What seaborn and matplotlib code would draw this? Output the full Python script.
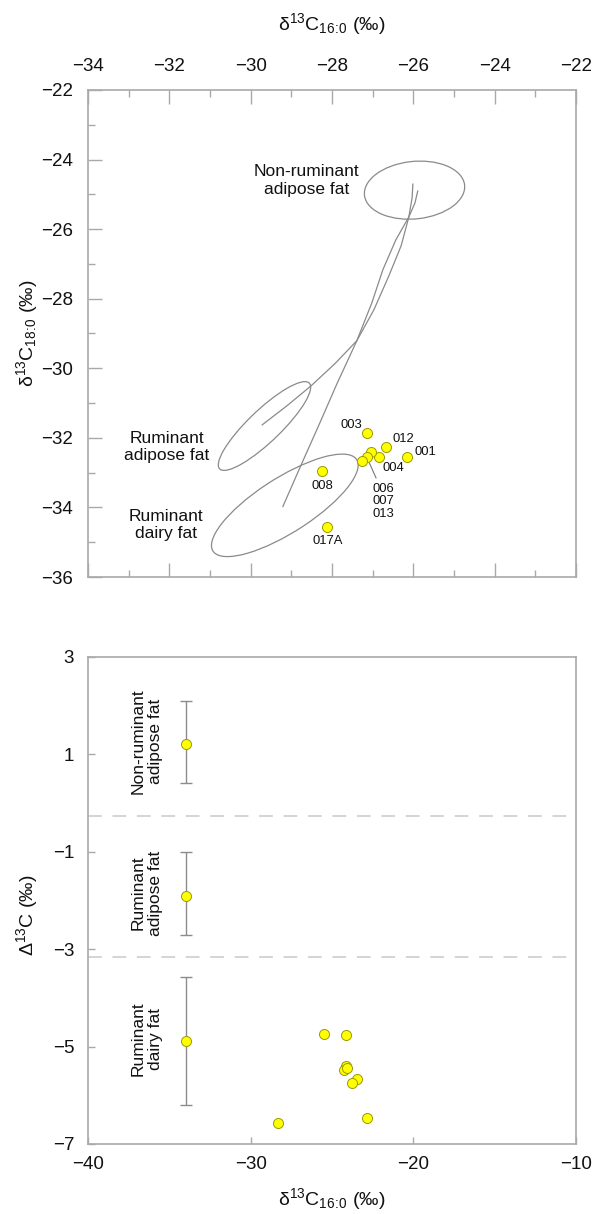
import numpy as np
import pandas as pd
import matplotlib.pyplot as plt
from matplotlib.patches import Ellipse
from matplotlib.ticker import MultipleLocator
import seaborn as sns

sns.set_theme(style="white")
plt.rcParams['font.family'] = ['Liberation Sans', 'DejaVu Sans']
plt.rcParams['mathtext.fontset'] = 'custom'
plt.rcParams['mathtext.rm'] = 'Liberation Sans'
plt.rcParams['mathtext.it'] = 'Liberation Sans:italic'
plt.rcParams['mathtext.default'] = 'regular'

# --- Panel superior: d13C16:0 vs d13C18:0 ---
muestras = ['003', '012', '001', '004', '006', '007', '013', '008', '017A']
d16_sup = [-27.13, -26.66, -26.15, -26.84, -27.05, -27.15, -27.27, -28.24, -28.12]
d18_sup = [-31.87, -32.25, -32.55, -32.55, -32.41, -32.54, -32.66, -32.95, -34.55]

# Elipses de referencia (centro, ancho, alto, ángulo)
elip_nombre = ['Non-ruminant\nadipose fat', 'Ruminant\nadipose fat', 'Ruminant\ndairy fat']
elip_cx = [-25.97, -29.66, -29.16]
elip_cy = [-24.88, -31.66, -33.94]
elip_w = [2.48, 3.31, 4.41]
elip_h = [1.65, 0.85, 1.50]
elip_ang = [8, 48.8, 37.7]

# Curvas de mezcla
curva_adip_x = [-29.72, -29.11, -28.52, -27.93, -27.39, -26.97, -26.60, -26.30, -26.11, -26.03, -26.01]
curva_adip_y = [-31.63, -31.08, -30.51, -29.87, -29.21, -28.32, -27.34, -26.48, -25.65, -25.10, -24.70]
curva_lact_x = [-29.21, -28.79, -28.34, -27.88, -27.39, -27.02, -26.75, -26.43, -26.11, -25.96, -25.89]
curva_lact_y = [-33.98, -32.86, -31.68, -30.45, -29.21, -28.12, -27.17, -26.31, -25.65, -25.25, -24.90]

# --- Panel inferior: d13C16:0 vs D13C ---
d16_inf = [-25.50, -24.11, -24.15, -24.25, -24.07, -23.49, -23.76, -22.87, -28.30]
cap13_inf = [-4.75, -4.76, -5.40, -5.48, -5.44, -5.66, -5.75, -6.46, -6.56]

ref_nombre = ['Non-ruminant\nadipose fat', 'Ruminant\nadipose fat', 'Ruminant\ndairy fat']
ref_x = [-34, -34, -34]
ref_media = [1.21, -1.90, -4.89]
ref_max = [2.10, -1.00, -3.58]
ref_min = [0.42, -2.70, -6.20]
limites = [-0.27, -3.17]

gris_eje = '#a9a9a9'
gris_linea = '#8a8a8a'
amarillo = '#ffff00'
borde = '#9a9a00'

# etiqueta del eje con el subíndice 16:0 sin espacios alrededor de los dos puntos
lab16 = r'δ$^{13}$C$_{16\!:\!0}$ (‰)'
lab18 = r'δ$^{13}$C$_{18\!:\!0}$ (‰)'

fig = plt.figure(figsize=(5.93, 12.14), dpi=100)
ax1 = fig.add_axes([0.1484, 0.5247, 0.8229, 0.4012])
ax2 = fig.add_axes([0.1484, 0.0577, 0.8229, 0.4012])

# Curvas y elipses
for cx, cy in [(curva_adip_x, curva_adip_y), (curva_lact_x, curva_lact_y)]:
    sns.lineplot(x=cx, y=cy, sort=False, estimator=None, color=gris_linea,
                 lw=0.9, ax=ax1)
for x, y, w, h, a in zip(elip_cx, elip_cy, elip_w, elip_h, elip_ang):
    ax1.add_patch(Ellipse((x, y), w, h, angle=a, fill=False, ec=gris_linea, lw=0.9))

df_sup = pd.DataFrame({'d16': d16_sup, 'd18': d18_sup, 'muestra': muestras})
sns.scatterplot(data=df_sup, x='d16', y='d18', s=52, color=amarillo, edgecolor=borde,
                linewidth=0.7, ax=ax1, zorder=3)

# Etiquetas de muestras (desplazamiento en píxeles)
desplaz = {'003': (-16, 8), '012': (17, 8), '001': (18, 5), '004': (14, -11),
           '008': (0, -15), '017A': (1, -14)}
for _, fila in df_sup.iterrows():
    if fila['muestra'] in desplaz:
        ax1.annotate(fila['muestra'], (fila['d16'], fila['d18']), xytext=desplaz[fila['muestra']],
                     textcoords='offset pixels', ha='center', va='center', fontsize=9.4,
                     color='#111111')
fila = df_sup[df_sup['muestra'] == '007'].iloc[0]
ax1.annotate('006\n007\n013', (fila['d16'], fila['d18']), xytext=(17, -26),
             textcoords='offset pixels', ha='center', va='top', fontsize=9.4,
             color='#111111', linespacing=1.05,
             arrowprops=dict(arrowstyle='-', color='#777777', lw=0.8,
                             shrinkA=1, shrinkB=5, relpos=(0.25, 1.0)))

# Nombres de las elipses
ax1.text(-28.62, -24.60, elip_nombre[0], ha='center', va='center', fontsize=12.5, color='#111111')
ax1.text(-32.07, -32.26, elip_nombre[1], ha='center', va='center', fontsize=12.5, color='#111111')
ax1.text(-32.08, -34.50, elip_nombre[2], ha='center', va='center', fontsize=12.5, color='#111111')

ax1.set_xlim(-34, -22)
ax1.set_ylim(-36, -22)
ax1.xaxis.set_major_locator(MultipleLocator(2))
ax1.xaxis.set_minor_locator(MultipleLocator(1))
ax1.yaxis.set_major_locator(MultipleLocator(2))
ax1.yaxis.set_minor_locator(MultipleLocator(1))
ax1.xaxis.set_label_position('top')
ax1.tick_params(axis='x', which='both', direction='in', top=True, bottom=True,
                labeltop=True, labelbottom=False, color=gris_eje, pad=11)
ax1.tick_params(axis='y', which='both', direction='in', left=True, right=False,
                color=gris_eje, pad=11)
ax1.tick_params(which='major', length=10, width=1, labelsize=13.5, labelcolor='#111111')
ax1.tick_params(which='minor', length=5, width=1)
ax1.set_xlabel(lab16, fontsize=14, labelpad=20, color='#111111')
ax1.set_ylabel(lab18, fontsize=14, color='#111111')
ax1.yaxis.set_label_coords(-0.098, 0.5)

# --- Panel inferior ---
for b in limites:
    ax2.axhline(b, color='#c9c9c9', lw=1.1, dashes=(9, 7), zorder=1)
ax2.errorbar(ref_x, ref_media,
             yerr=[np.subtract(ref_media, ref_min), np.subtract(ref_max, ref_media)],
             fmt='none', ecolor='#8c8c8c', elinewidth=1, capsize=4, capthick=1, zorder=2)
df_inf = pd.DataFrame({'d16': d16_inf + ref_x, 'cap': cap13_inf + ref_media})
sns.scatterplot(data=df_inf, x='d16', y='cap', s=52, color=amarillo, edgecolor=borde,
                linewidth=0.7, ax=ax2, zorder=3)
for nombre, m in zip(ref_nombre, ref_media):
    ax2.text(-36.4, m + 0.05, nombre, rotation=90, ha='center', va='center',
             multialignment='center', fontsize=12.5, color='#111111')

ax2.set_xlim(-40, -10)
ax2.set_ylim(-7, 3)
ax2.set_xticks([-40, -30, -20, -10])
ax2.set_yticks([3, 1, -1, -3, -5, -7])
ax2.tick_params(direction='in', length=5, width=1, color=gris_eje, labelsize=13.5,
                labelcolor='#111111', left=True, bottom=True)
ax2.tick_params(axis='x', pad=9)
ax2.tick_params(axis='y', pad=10)
ax2.set_xlabel(lab16, fontsize=14, labelpad=9, color='#111111')
ax2.set_ylabel('Δ$^{13}$C (‰)', fontsize=14, color='#111111')
ax2.yaxis.set_label_coords(-0.098, 0.47)

for ax in (ax1, ax2):
    for s in ax.spines.values():
        s.set_color(gris_eje)
        s.set_linewidth(1.2)

fig.savefig('out.png', dpi=100)
